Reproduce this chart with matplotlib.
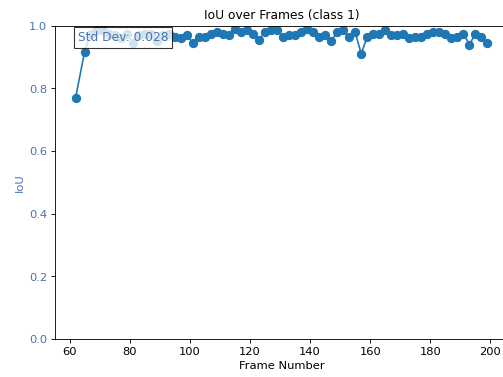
import numpy as np
import matplotlib
matplotlib.use("Agg")
import matplotlib.pyplot as plt

# Frame indices and per-frame IoU for class 1
frames = [62] + list(range(65, 200, 2))
iou = [
    0.770, 0.917, 0.975, 0.985, 0.985, 0.975, 0.970, 0.960, 0.975, 0.945,
    0.970, 0.975, 0.975, 0.950, 0.970, 0.975, 0.965, 0.960, 0.970, 0.945,
    0.965, 0.965, 0.975, 0.980, 0.975, 0.970, 0.990, 0.980, 0.985, 0.975,
    0.955, 0.980, 0.985, 0.985, 0.965, 0.970, 0.970, 0.980, 0.990, 0.980,
    0.965, 0.970, 0.950, 0.980, 0.985, 0.965, 0.980, 0.910, 0.965, 0.975,
    0.975, 0.985, 0.970, 0.970, 0.975, 0.960, 0.965, 0.965, 0.975, 0.980,
    0.980, 0.975, 0.960, 0.965, 0.975, 0.940, 0.975, 0.965, 0.945,
]

label_blue = "#4c72b0"

fig = plt.figure(figsize=(6.4, 4.8), dpi=78.6)
ax = fig.add_axes([0.1093, 0.1008, 0.9007, 0.8302])

ax.plot(frames, iou, "o-", color="#1f77b4", markersize=7.5)
ax.set_ylim(0, 1.0)
ax.set_xticks([60, 80, 100, 120, 140, 160, 180, 200])
ax.set_title("IoU over Frames (class 1)", fontsize=11.2)
ax.set_xlabel("Frame Number", fontsize=10.5)
ax.set_ylabel("IoU", color=label_blue, fontsize=10.5)
ax.tick_params(axis="both", labelsize=10.5)
ax.tick_params(axis="y", labelcolor=label_blue)

std_dev = np.std(iou)
ax.text(0.05, 0.962, f"Std Dev: {std_dev:.3f}", transform=ax.transAxes,
        va="center", ha="left", color=label_blue, zorder=5, fontsize=11.2,
        bbox=dict(boxstyle="square,pad=0.3", facecolor="white", alpha=0.8,
                  edgecolor="black"))

fig.savefig("out.png", dpi=78.6)
